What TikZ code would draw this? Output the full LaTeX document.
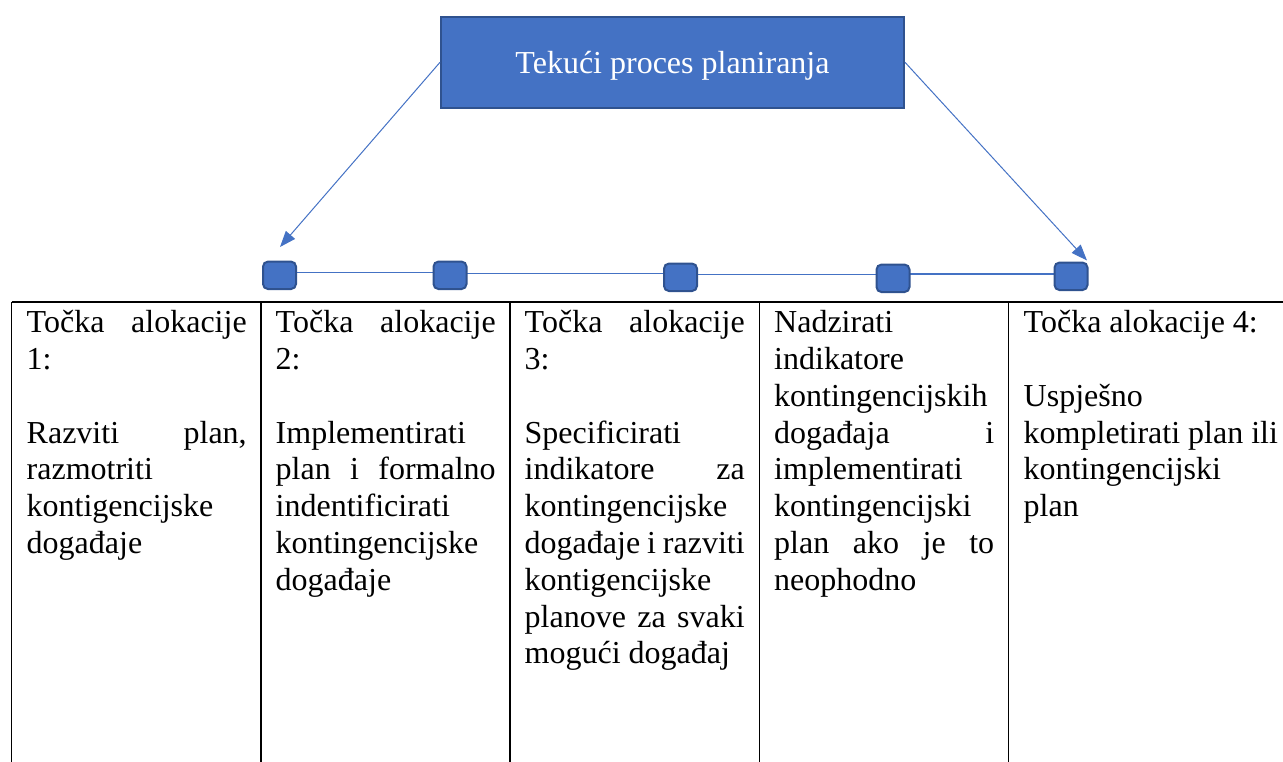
\documentclass[tikz,border=0pt]{standalone}
\usepackage{fontspec}
\setmainfont{Liberation Serif}
\usetikzlibrary{arrows.meta,backgrounds}
\definecolor{accent}{HTML}{4472C4}
\definecolor{accentdark}{HTML}{2F528F}
\newcommand\jline[1]{\makebox[220pt][s]{\spaceskip=0pt\xspaceskip=0pt #1}}
\newcommand\firststrut{\spaceskip=0pt\xspaceskip=0pt\rule{0pt}{26pt}}
\begin{document}
\begin{tikzpicture}[x=1pt,y=-1pt,
  mainbox/.style={draw=accentdark, line width=2pt, fill=accent, text=white,
    minimum width=463pt, minimum height=90.7pt, inner sep=0pt,
    font=\fontsize{32}{36.8}\selectfont},
  stepsq/.style={draw=accentdark, line width=2pt, fill=accent, rounded corners=5pt,
    minimum width=33pt, minimum height=27.5pt, inner sep=0pt},
  link/.style={accent, line width=1.3pt},
  arr/.style={accent, line width=1pt, -{Triangle[length=16pt,width=12pt]}},
  tabline/.style={black, line width=1.3pt},
  celltext/.style={anchor=north west, inner sep=0pt, text width=220pt, align=left,
    font=\fontsize{32}{36.8}\selectfont}
]
\useasboundingbox (0,0) rectangle (1283,762);

% top box
\node[mainbox, text height=23.4pt, text depth=0pt] (plan) at (672.5,62.3) {Tekući proces planiranja};

% small squares
\node[stepsq] (s1) at (279.5,275.3) {};
\node[stepsq] (s2) at (450,275.3) {};
\node[stepsq] (s3) at (680.5,277.3) {};
\node[stepsq] (s4) at (893,278.3) {};
\node[stepsq] (s5) at (1071,276.3) {};

\begin{pgfonlayer}{background}
\draw[link] ([yshift=2.6pt]s1.center) -- ([yshift=2.6pt]s2.center);
\draw[link] ([yshift=2pt]s2.center) -- ([yshift=4pt]s3.center);
\draw[link] ([yshift=3pt]s3.center) -- ([yshift=4pt]s4.center);
\draw[link] ([yshift=4.3pt]s4.center) -- ([yshift=2.3pt]s5.center);
\end{pgfonlayer}

% arrows
\coordinate (t1) at (280,247);
\coordinate (t5) at (1087,260.5);
\draw[arr] (plan.west) -- (t1);
\draw[arr] (plan.east) -- (t5);

% table lines
\coordinate (tl) at (11.7,302);
\coordinate (tr) at (1290,302);
\draw[tabline] (tl) -- (tr);
\foreach \x in {11.7,261,510,759.5,1008.5}
  \draw[tabline] (\x,302) -- (\x,775);

% cells
\node[celltext] (c1) at (26.5,306.5) {\firststrut\jline{Točka alokacije}\\
1:\\
~\\
\jline{Razviti plan,}\\
razmotriti\\
kontigencijske\\
događaje};

\node[celltext] (c2) at (275.5,306.5) {\firststrut\jline{Točka alokacije}\\
2:\\
~\\
Implementirati\\
\jline{plan i formalno}\\
indentificirati\\
kontingencijske\\
događaje};

\node[celltext] (c3) at (524.5,306.5) {\firststrut\jline{Točka alokacije}\\
3:\\
~\\
Specificirati\\
\jline{indikatore za}\\
kontingencijske\\
\jline{događaje i razviti}\\
kontigencijske\\
\jline{planove za svaki}\\
mogući događaj};

\node[celltext] (c4) at (774,306.5) {\firststrut Nadzirati\\
indikatore\\
kontingencijskih\\
\jline{događaja i}\\
implementirati\\
kontingencijski\\
\jline{plan ako je to}\\
neophodno};

\node[celltext, text width=262pt] (c5) at (1023.5,306.5) {\firststrut Točka alokacije 4:\\
~\\
Uspješno\\
kompletirati plan ili\\
kontingencijski\\
plan};
\end{tikzpicture}
\end{document}
